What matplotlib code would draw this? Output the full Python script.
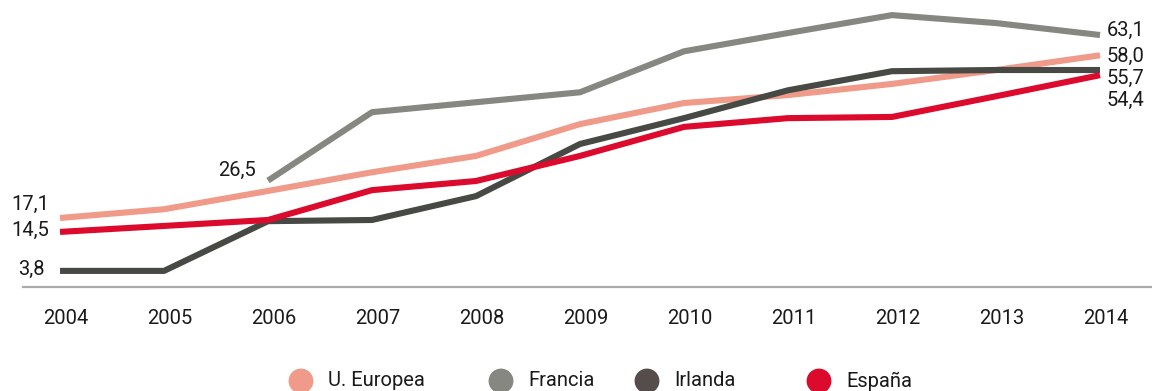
import numpy as np
import matplotlib.pyplot as plt
import matplotlib.transforms as mtransforms

# Data
years = [2004, 2005, 2006, 2007, 2008, 2009, 2010, 2011, 2012, 2013, 2014]
ue = [17.1, 19.3, 23.9, 28.6, 32.7, 40.7, 46.0, 48.0, 50.8, 54.3, 58.0]
francia_years = [2006, 2007, 2008, 2009, 2010, 2011, 2012, 2013, 2014]
francia = [26.5, 43.7, 46.2, 48.7, 59.0, 63.6, 68.1, 66.1, 63.1]
irlanda = [3.8, 3.8, 16.3, 16.6, 22.6, 35.7, 42.2, 49.2, 54.0, 54.3, 54.3]
espana = [13.6, 15.1, 16.6, 24.1, 26.4, 32.7, 40.0, 42.2, 42.5, 47.7, 53.0]

names = ['U. Europea', 'Francia', 'Irlanda', 'España']
colors = ['#F09A8A', '#858780', '#474944', '#DC0A2D']
legend_colors = ['#F09A8A', '#858780', '#554C4C', '#DC0A2D']

plt.rcParams['font.family'] = ['Roboto', 'DejaVu Sans']

W, H = 1152, 391
fig = plt.figure(figsize=(W / 100, H / 100), dpi=100)
ax = fig.add_axes([23 / W, (H - 287) / H, (W - 23) / W, 287 / H])

lw = 4.4
ax.plot(years, ue, color=colors[0], lw=lw, solid_capstyle='butt', zorder=2)
ax.plot(francia_years, francia, color=colors[1], lw=lw, solid_capstyle='butt', zorder=2)
ax.plot(years, irlanda, color=colors[2], lw=lw, solid_capstyle='butt', zorder=3)
ax.plot(years, espana, color=colors[3], lw=lw, solid_capstyle='butt', zorder=4)

ax.set_xlim(2003.644, 2014.5)
ax.set_ylim(-0.25, 71.9)

for s in ['top', 'right', 'left']:
	ax.spines[s].set_visible(False)
ax.spines['bottom'].set_color('#AAAAAA')
ax.spines['bottom'].set_linewidth(1.6)
ax.set_yticks([])
ax.set_xticks(years)
ax.set_xticklabels([str(y) for y in years])
ax.tick_params(axis='x', length=0, pad=16, labelsize=14.5, labelcolor='#1a1a1a')

# Year labels sit a little right of the line vertices in the original
shift = mtransforms.ScaledTranslation(6 / 100, 0, fig.dpi_scale_trans)
for t in ax.get_xticklabels():
	t.set_transform(t.get_transform() + shift)

# Value labels (offsets in points)
fs = 14.5
tc = '#1a1a1a'
def lab(x, y, txt, dx, dy, ha):
	ax.annotate(txt, (x, y), xytext=(dx, dy), textcoords='offset points',
		ha=ha, va='center', fontsize=fs, color=tc)

lab(years[0], ue[0], '17,1', -8, 10, 'right')
lab(years[0], espana[0], '14,5', -8, 1, 'right')
lab(years[0], irlanda[0], '3,8', -11, 1, 'right')
lab(francia_years[0], francia[0], '26,5', -9, 7, 'right')
lab(years[-1], francia[-1], '63,1', 5, 3, 'left')
lab(years[-1], ue[-1], '58,0', 5, -1, 'left')
lab(years[-1], irlanda[-1], '55,7', 5, -6, 'left')
lab(years[-1], espana[-1], '54,4', 5, -18, 'left')

# Legend drawn along the bottom
leg = fig.add_axes([0, 0, 1, 1])
leg.set_xlim(0, W)
leg.set_ylim(H, 0)
leg.axis('off')
leg_x = [301, 501, 647, 819]
for x, name, c in zip(leg_x, names, legend_colors):
	leg.scatter([x], [381], s=320, color=c, edgecolors='none')
	leg.text(x + 27, 381, name, ha='left', va='center', fontsize=14.5, color=tc)

plt.savefig('out.png', dpi=100)
